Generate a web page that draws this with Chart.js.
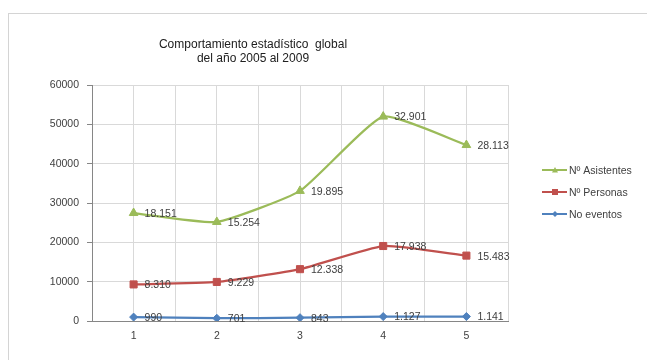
<!DOCTYPE html>
<html>
<head>
<meta charset="utf-8">
<script src="https://cdn.jsdelivr.net/npm/chart.js@4.4.0/dist/chart.umd.min.js"></script>
<style>
  html, body { margin: 0; padding: 0; background: #fff; }
  #wrap { position: relative; width: 647px; height: 360px; }
  #frame { position: absolute; left: 8px; top: 13px; right: -2px; bottom: -2px;
           border-left: 1px solid #d4d4d4; border-top: 1px solid #d4d4d4; }
</style>
</head>
<body>
<div id="wrap">
  <div id="frame"></div>
  <canvas id="chart" width="647" height="360"></canvas>
</div>
<script>
// Data (raw values per year, series are stacked in the chart)
const categories = ['1', '2', '3', '4', '5'];
const eventos = [990, 701, 843, 1127, 1141];
const personas = [8310, 9229, 12338, 17938, 15483];
const asistentes = [18151, 15254, 19895, 32901, 28113];
const yTicks = [0, 10000, 20000, 30000, 40000, 50000, 60000];
const titleLines = ['Comportamiento estadístico  global', 'del año 2005 al 2009'];

const FONT = '"Liberation Sans", Arial, sans-serif';
const TEXT = '#404040';

function toPoints(values) {
    return values.map((v, i) => ({ x: Number(categories[i]), y: v }));
}

function fmt(v) {
    return String(v).replace(/\B(?=(\d{3})+(?!\d))/g, '.');
}

function drawMarker(ctx, style, x, y, r, color) {
    ctx.save();
    ctx.fillStyle = color;
    ctx.beginPath();
    if (style === 'triangle') {
        ctx.moveTo(x, y - r);
        ctx.lineTo(x + r, y + r * 0.8);
        ctx.lineTo(x - r, y + r * 0.8);
    } else if (style === 'rect') {
        ctx.rect(x - r, y - r, r * 2, r * 2);
    } else {
        ctx.moveTo(x, y - r);
        ctx.lineTo(x + r, y);
        ctx.lineTo(x, y + r);
        ctx.lineTo(x - r, y);
    }
    ctx.closePath();
    ctx.fill();
    ctx.restore();
}

// Title, value labels and legend drawn on the canvas
const decorations = {
    id: 'decorations',
    afterDatasetsDraw(chart) {
        const ctx = chart.ctx;
        ctx.save();
        ctx.font = '10.5px ' + FONT;
        ctx.fillStyle = TEXT;
        ctx.textBaseline = 'middle';
        ctx.textAlign = 'left';
        chart.data.datasets.forEach((ds, i) => {
            const meta = chart.getDatasetMeta(i);
            meta.data.forEach((pt, j) => {
                ctx.fillText(fmt(ds.rawValues[j]), pt.x + 11, pt.y + 1);
            });
        });

        // title
        ctx.font = '12px ' + FONT;
        ctx.textAlign = 'center';
        ctx.fillStyle = '#202020';
        ctx.fillText(titleLines[0], 253, 45);
        ctx.fillText(titleLines[1], 253, 59);

        // legend
        ctx.font = '10.5px ' + FONT;
        ctx.textAlign = 'left';
        ctx.fillStyle = TEXT;
        const order = [2, 1, 0];
        order.forEach((idx, k) => {
            const ds = chart.data.datasets[idx];
            const y = 170 + k * 22;
            ctx.strokeStyle = ds.borderColor;
            ctx.lineWidth = 2;
            ctx.beginPath();
            ctx.moveTo(542, y);
            ctx.lineTo(567, y);
            ctx.stroke();
            drawMarker(ctx, ds.pointStyle, 555, y, 3, ds.borderColor);
            ctx.fillText(ds.label, 569, y + 1);
        });
        ctx.restore();
    }
};

const ctx = document.getElementById('chart');
new Chart(ctx, {
    type: 'line',
    data: {
        datasets: [
            {
                label: 'No eventos',
                data: toPoints(eventos),
                rawValues: eventos,
                borderColor: '#4F81BD',
                backgroundColor: '#4F81BD',
                pointStyle: 'rectRot',
                pointRadius: 4,
                fill: false
            },
            {
                label: 'Nº Personas',
                data: toPoints(personas),
                rawValues: personas,
                borderColor: '#C0504D',
                backgroundColor: '#C0504D',
                pointStyle: 'rect',
                pointRadius: 5,
                fill: false
            },
            {
                label: 'Nº Asistentes',
                data: toPoints(asistentes),
                rawValues: asistentes,
                borderColor: '#9BBB59',
                backgroundColor: '#9BBB59',
                pointStyle: 'triangle',
                pointRadius: 5,
                fill: false
            }
        ]
    },
    options: {
        responsive: false,
        animation: false,
        layout: { padding: { left: 0, top: 85, right: 139, bottom: 0 } },
        elements: {
            line: { borderWidth: 2.25, tension: 0.15 },
            point: { borderWidth: 1, hoverRadius: 5 }
        },
        plugins: {
            legend: { display: false },
            tooltip: { enabled: false }
        },
        scales: {
            x: {
                type: 'linear',
                min: 0.5,
                max: 5.5,
                afterFit(scale) { scale.height = 39; },
                afterBuildTicks(scale) {
                    const t = [];
                    for (let v = 0.5; v <= 5.5; v += 0.5) t.push({ value: v });
                    scale.ticks = t;
                },
                ticks: {
                    autoSkip: false,
                    maxRotation: 0,
                    padding: 9,
                    color: TEXT,
                    font: { family: FONT, size: 10.5 },
                    callback(v) {
                        const i = categories.indexOf(String(v));
                        return i >= 0 ? categories[i] : '';
                    }
                },
                grid: { color: '#d9d9d9', lineWidth: 1, drawTicks: false },
                border: { color: '#868686' }
            },
            y: {
                stacked: true,
                min: 0,
                max: 60000,
                afterFit(scale) { scale.width = 92; },
                afterBuildTicks(scale) {
                    scale.ticks = yTicks.map(v => ({ value: v }));
                },
                ticks: {
                    padding: 8,
                    color: TEXT,
                    font: { family: FONT, size: 10.5 },
                    callback(v) { return String(v); }
                },
                grid: { color: '#d9d9d9', lineWidth: 1, tickLength: 5, tickColor: '#868686' },
                border: { color: '#868686' }
            }
        }
    },
    plugins: [decorations]
});
</script>
</body>
</html>
